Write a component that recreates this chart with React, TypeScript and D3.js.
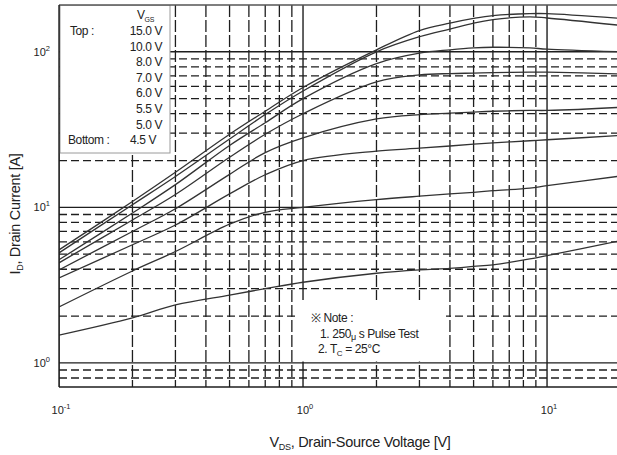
import React from 'react';
import * as d3 from 'd3';

const W = 617;
const H = 455;

// Drain-source voltage sample points [V]
const vds = [0.1, 0.2, 0.3, 0.5, 0.7, 1, 2, 3, 4, 5, 6, 8.5, 10, 20];

// Drain current [A] for each gate-source voltage
const id15 = [5.33, 10.9, 16.8, 29.5, 41.5, 59, 103, 137, 153, 164, 171, 176, 176, 164];
const id10 = [5.1, 10.4, 15.8, 27.5, 39.5, 56, 100, 125, 140, 153, 161, 168, 165, 148];
const id8 = [4.6, 9.2, 14, 25, 35, 50, 84, 98, 103, 106, 107, 106, 104, 100];
const id7 = [4.4, 8.3, 12.1, 21, 29.5, 40, 64, 71, 72.5, 73, 73.5, 74, 74, 72];
const id6 = [3.96, 7.0, 9.8, 16.3, 22.5, 28, 37, 39.5, 40.3, 41, 41.5, 42, 42, 44];
const id55 = [3.52, 5.75, 7.7, 12.2, 16.2, 20, 23, 24, 24.8, 25.5, 26, 26.8, 27.2, 29];
const id5 = [2.29, 3.9, 5.2, 7.8, 9.3, 10, 11.2, 11.8, 12.2, 12.5, 12.8, 13.3, 13.8, 15.9];
const id45 = [1.51, 1.95, 2.36, 2.73, 3.0, 3.3, 3.77, 3.96, 4.05, 4.17, 4.27, 4.66, 4.9, 6.1];

const curves = [id15, id10, id8, id7, id6, id55, id5, id45];

// Legend entries (gate-source voltages)
const vgsLabels = ['15.0 V', '10.0 V', '8.0 V', '7.0 V', '6.0 V', '5.5 V', '5.0 V', '4.5 V'];

// Axis decades
const xDecades = [0.1, 1, 10];
const xDecadeExp = ['-1', '0', '1'];
const yDecades = [1, 10, 100];
const yDecadeExp = ['0', '1', '2'];

const FONT = '"Liberation Sans", Arial, Helvetica, sans-serif';
const INK = '#1e1e1e';

export default function App() {
  const left = 59;
  const right = 617;
  const top = 5;
  const bottom = 387;

  const x = d3.scaleLog().domain([0.1, 20]).range([left, 620.5]);
  const y = d3.scaleLog().domain([0.7, 200]).range([bottom, top]);

  const minorX: number[] = [];
  xDecades.forEach((d) => {
    for (let k = 2; k <= 9; k++) {
      const v = k * d;
      if (v < 20) minorX.push(v);
    }
  });
  const minorY: number[] = [];
  [0.1, 1, 10].forEach((d) => {
    for (let k = 2; k <= 9; k++) {
      const v = +(k * d).toFixed(4);
      if (v > 0.7 && v < 100) minorY.push(v);
    }
  });

  const line = d3
    .line<[number, number]>()
    .x((d) => x(d[0]))
    .y((d) => y(d[1]))
    .curve(d3.curveCatmullRom.alpha(0.5));

  const legendY0 = 35;
  const legendStep = 15.6;

  return (
    <svg
      width={W}
      height={H}
      viewBox={`0 0 ${W} ${H}`}
      style={{ position: 'absolute', left: 0, top: 0, background: '#fff' }}
      fontFamily={FONT}
    >
      <defs>
        <clipPath id="plot">
          <rect x={left} y={top} width={right - left} height={bottom - top} />
        </clipPath>
      </defs>
      <rect x={0} y={0} width={W} height={H} fill="#fff" />

      <g clipPath="url(#plot)">
        {/* minor grid */}
        {minorY.map((v) => (
          <line
            key={'hy' + v}
            x1={left}
            x2={right}
            y1={y(v)}
            y2={y(v)}
            stroke={INK}
            strokeWidth={1.3}
            strokeDasharray="8,4"
          />
        ))}
        {minorX.map((v) => (
          <line
            key={'vx' + v}
            x1={x(v)}
            x2={x(v)}
            y1={top}
            y2={bottom}
            stroke={INK}
            strokeWidth={1.3}
            strokeDasharray="12,3"
          />
        ))}
        {/* decade grid */}
        {yDecades.map((v) => (
          <line key={'hd' + v} x1={left} x2={right} y1={y(v)} y2={y(v)} stroke={INK} strokeWidth={1.4} />
        ))}
        {xDecades.map((v) => (
          <line key={'vd' + v} x1={x(v)} x2={x(v)} y1={top} y2={bottom} stroke={INK} strokeWidth={1.4} />
        ))}

        {/* legend and note panels */}
        <rect x={60} y={5} width={110} height={148} fill="#fff" stroke="#9a9a9a" strokeWidth={1} />
        <rect x={296} y={300} width={150} height={61.5} fill="#fff" />

        {/* characteristic curves */}
        {curves.map((c, i) => (
          <path
            key={'c' + i}
            d={line(vds.map((v, j) => [v, c[j]] as [number, number])) || ''}
            fill="none"
            stroke="#333"
            strokeWidth={1.3}
          />
        ))}
      </g>

      {/* plot frame */}
      <line x1={left} x2={right} y1={top} y2={top} stroke="#555" strokeWidth={1.3} />
      <line x1={left} x2={right} y1={bottom} y2={bottom} stroke={INK} strokeWidth={1.4} />
      <line x1={left} x2={left} y1={top} y2={bottom} stroke={INK} strokeWidth={1.4} />

      {/* legend text */}
      <g fontSize={12} fill="#222" letterSpacing={-0.4}>
        <text x={137} y={19}>
          V
          <tspan fontSize={7} dy={3}>GS</tspan>
        </text>
        <text x={70} y={legendY0}>Top :</text>
        <text x={68} y={legendY0 + legendStep * 7}>Bottom :</text>
        {vgsLabels.map((s, i) => (
          <text key={s} x={i === 7 ? 156 : 162} y={legendY0 + legendStep * i} textAnchor="end">
            {s}
          </text>
        ))}
      </g>

      {/* note */}
      <g fontSize={12} fill="#222" letterSpacing={-0.4}>
        <text x={311} y={322}>※ Note :</text>
        <text x={320} y={338}>
          1. 250
          <tspan fontSize={9} dy={2}>μ</tspan>
          <tspan dy={-2}> s Pulse Test</tspan>
        </text>
        <text x={318} y={353}>
          2. T
          <tspan fontSize={8} dy={3}>C</tspan>
          <tspan dy={-3}> = 25°C</tspan>
        </text>
      </g>

      {/* tick labels */}
      <g fontSize={11} fill="#222">
        {xDecades.map((v, i) => (
          <text key={'xt' + v} x={x(v) + 2} y={414} textAnchor="middle">
            10
            <tspan fontSize={7.5} dy={-5}>{xDecadeExp[i]}</tspan>
          </text>
        ))}
        {yDecades.map((v, i) => (
          <text key={'yt' + v} x={50} y={y(v) + 4} textAnchor="end">
            10
            <tspan fontSize={7.5} dy={-5}>{yDecadeExp[i]}</tspan>
          </text>
        ))}
      </g>

      {/* axis titles */}
      <text x={360} y={447} fontSize={14.5} textAnchor="middle" fill="#222" letterSpacing={-0.3}>
        V
        <tspan fontSize={9} dy={3}>DS</tspan>
        <tspan dy={-3}>, Drain-Source Voltage [V]</tspan>
      </text>
      <text
        transform="translate(20,214) rotate(-90)"
        fontSize={14.5}
        textAnchor="middle"
        fill="#222"
        letterSpacing={-0.3}
      >
        I
        <tspan fontSize={9} dy={3}>D</tspan>
        <tspan dy={-3}>, Drain Current [A]</tspan>
      </text>
    </svg>
  );
}
